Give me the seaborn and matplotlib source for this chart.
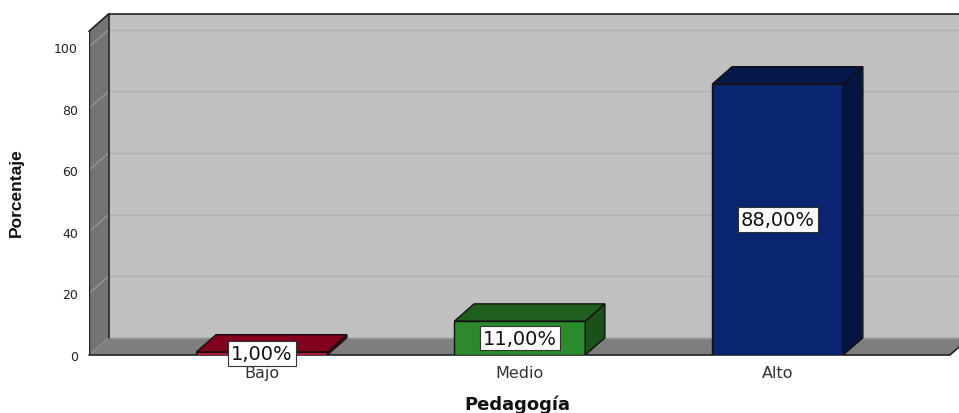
import numpy as np
import pandas as pd
import matplotlib
matplotlib.use('Agg')
import matplotlib.pyplot as plt
import seaborn as sns
from matplotlib.patches import Polygon, Rectangle

# ---- data ----
categories = ['Bajo', 'Medio', 'Alto']
percentages = [1.0, 11.0, 88.0]
value_labels = ['1,00%', '11,00%', '88,00%']
y_ticks = [0, 20, 40, 60, 80, 100]
front_colors = ['#E0173F', '#2B8A2B', '#0A2570']
top_colors = ['#82001E', '#1F5E1F', '#06184A']
side_colors = ['#6C0018', '#1A501A', '#051440']

sns.set_theme(style='white')
plt.rcParams['font.family'] = ['DejaVu Sans']

W, H = 959, 414
fig = plt.figure(figsize=(W / 100, H / 100), dpi=100)
left_px, right_px, bottom_px, top_px = 89, 959, 356, 12
ax = fig.add_axes([left_px / W, (H - bottom_px) / H,
                   (right_px - left_px) / W, (bottom_px - top_px) / H])

ppu = 3.08  # pixels per y unit
x0 = -0.67
xr = 2.667
x1 = x0 + (right_px - left_px) / 258.0
ymax = (bottom_px - top_px) / ppu
wall_top = (bottom_px - 15) / ppu
dx, dy = 0.076, 5.6

df = pd.DataFrame({'Pedagogía': categories, 'Porcentaje': percentages})
sns.barplot(data=df, x='Pedagogía', y='Porcentaje', hue='Pedagogía',
            palette=front_colors, saturation=1, width=0.507, legend=False,
            edgecolor='#111111', linewidth=1, ax=ax, zorder=3)

bars = [p for p in ax.patches if isinstance(p, Rectangle)]
bars = sorted(bars, key=lambda p: p.get_x())

ax.set_xlim(x0, x1)
ax.set_ylim(0, ymax)

# walls and floor
ax.add_patch(Polygon([(x0 + dx, dy), (x1 + 1, dy), (x1 + 1, wall_top), (x0 + dx, wall_top)],
                     closed=True, fc='#C0C0C0', ec='none', zorder=0))
ax.add_patch(Polygon([(x0, 0), (x0, wall_top - dy), (x0 + dx, wall_top), (x0 + dx, dy)],
                     closed=True, fc='#747474', ec='none', zorder=1))
ax.add_patch(Polygon([(x0, 0), (xr, 0), (xr + dx, dy), (x0 + dx, dy)],
                     closed=True, fc='#7E7E7E', ec='none', zorder=1))

for v in y_ticks[1:]:
    ax.plot([x0 + dx, x1 + 1], [v + dy, v + dy], color='#B2B2B2', lw=1, zorder=0.5)
    ax.plot([x0, x0 + dx], [v, v + dy], color='#9C9C9C', lw=0.8, zorder=1.5)
ax.plot([x0 + dx, x1 + 1], [dy, dy], color='#9A9A9A', lw=1, zorder=1.5)

edge = '#222222'
ax.plot([x0 + dx, x0 + dx], [dy, wall_top], color=edge, lw=1.2, zorder=2)
ax.plot([x0, x0 + dx, x1 + 1], [wall_top - dy, wall_top, wall_top], color=edge, lw=1.2, zorder=2, clip_on=False)
ax.plot([x0, x0], [0, wall_top - dy], color=edge, lw=1.0, zorder=2)
ax.plot([x0, xr, xr + dx], [0, 0, dy], color=edge, lw=1.2, zorder=2, clip_on=False)

# 3D bar faces and labels
for i, b in enumerate(bars):
    b.set_zorder(3)
    px0 = b.get_x()
    w = b.get_width()
    h = b.get_height()
    px1 = px0 + w
    ax.add_patch(Polygon([(px1, 0), (px1 + dx, dy), (px1 + dx, h + dy), (px1, h)],
                         closed=True, fc=side_colors[i], ec='#111111', lw=1, zorder=3))
    ax.add_patch(Polygon([(px0, h), (px0 + dx, h + dy), (px1 + dx, h + dy), (px1, h)],
                         closed=True, fc=top_colors[i], ec='#111111', lw=1, zorder=3))
    ax.text((px0 + px1) / 2, h / 2, value_labels[i], ha='center', va='center',
            fontsize=14, color='#111111', zorder=6,
            bbox=dict(boxstyle='square,pad=0.15', fc='white', ec='#333333', lw=0.8))

for s in ax.spines.values():
    s.set_visible(False)
ax.grid(False)

ax.set_yticks(y_ticks)
ax.set_yticklabels([str(t) for t in y_ticks])
ax.set_xticks(range(len(categories)))
ax.set_xticklabels(categories)
ax.tick_params(axis='y', length=0, pad=8, labelsize=9, labelcolor='#222222')
ax.tick_params(axis='x', length=0, pad=7, labelsize=11.5, labelcolor='#333333')

ax.set_xlabel('Pedagogía', fontsize=13, fontweight='bold', color='#111111')
ax.xaxis.set_label_coords(0.492, -0.115)
ax.set_ylabel('Porcentaje', fontsize=12.5, fontweight='bold', color='#111111',
              fontfamily=['Liberation Sans', 'DejaVu Sans'])
ax.yaxis.set_label_coords(-0.075, 0.475)

fig.savefig('out.png', dpi=100)
